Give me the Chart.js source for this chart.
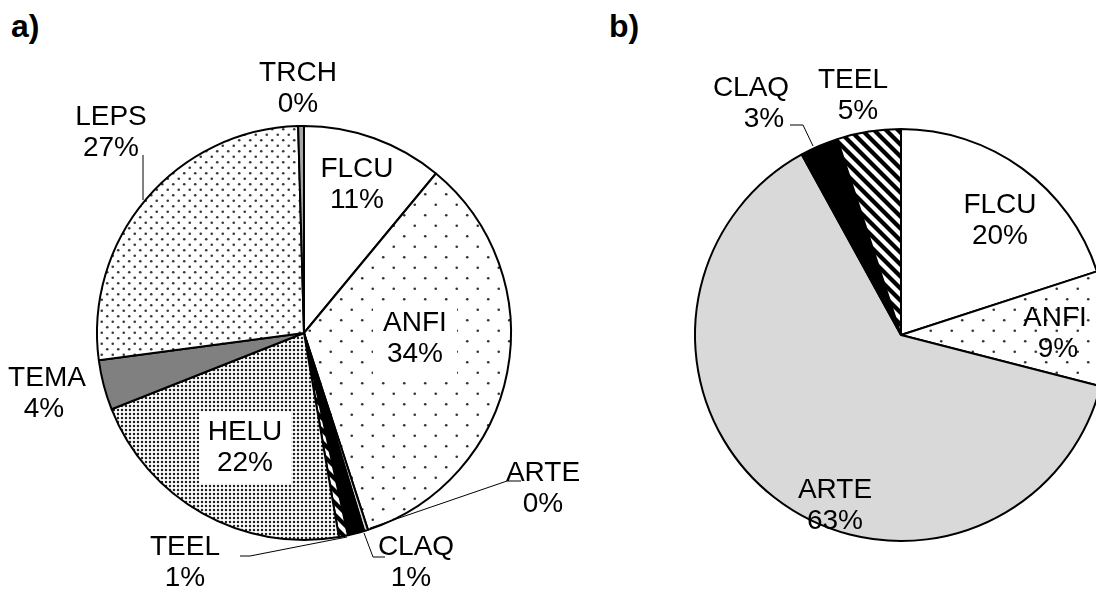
<!DOCTYPE html>
<html>
<head>
<meta charset="utf-8">
<script src="https://cdn.jsdelivr.net/npm/chart.js@4.4.0/dist/chart.umd.min.js"></script>
<style>
html, body { margin: 0; padding: 0; background: #fff; overflow: hidden; width: 1096px; height: 591px; }
canvas { position: absolute; top: 0; }
#pieA { left: 0; }
#pieB { left: 600px; }
.tag { position: absolute; font: bold 32px "Liberation Sans", Arial, sans-serif; line-height: 1; }
</style>
</head>
<body>
<div class="tag" style="left:11px;top:10px">a)</div>
<div class="tag" style="left:609px;top:10px">b)</div>
<canvas id="pieA" width="600" height="591"></canvas>
<canvas id="pieB" width="600" height="591"></canvas>
<script>
// a) composition
const labelsA = ['FLCU', 'ANFI', 'ARTE', 'CLAQ', 'TEEL', 'HELU', 'TEMA', 'LEPS', 'TRCH'];
const valuesA = [11.0, 34.0, 0.3, 1.3, 0.7, 21.7, 3.9, 26.65, 0.45];

// b) composition
const labelsB = ['FLCU', 'ANFI', 'ARTE', 'CLAQ', 'TEEL'];
const valuesB = [20, 9, 63, 3, 5];

const FONT = '28px "Liberation Sans", Arial, sans-serif';
const LINE = 31;

// fill patterns (excel-like)
function tile(ctx, size, draw) {
  const c = document.createElement('canvas');
  c.width = c.height = size;
  const g = c.getContext('2d');
  g.fillStyle = '#fff';
  g.fillRect(0, 0, size, size);
  draw(g, size);
  return ctx.createPattern(c, 'repeat');
}
const dot = (g, x, y, r, col) => { g.fillStyle = col; g.beginPath(); g.arc(x, y, r, 0, Math.PI * 2); g.fill(); };

function fills(ctx) {
  return {
    white: '#fff',
    sparse: tile(ctx, 21, (g, s) => { dot(g, s / 4, s / 4, 1.3, '#333'); dot(g, 3 * s / 4, 3 * s / 4, 1.3, '#333'); }),
    medium: tile(ctx, 11, (g, s) => { dot(g, s / 4, s / 4, 1.3, '#3a3a3a'); dot(g, 3 * s / 4, 3 * s / 4, 1.3, '#3a3a3a'); }),
    dense: tile(ctx, 4, (g, s) => { dot(g, 2, 2, 1.25, '#222'); }),
    stripes: tile(ctx, 12, (g, s) => {
      g.strokeStyle = '#000'; g.lineWidth = 4.2;
      for (let k = -1; k <= 1; k++) { g.beginPath(); g.moveTo(k * s - 2, -2); g.lineTo(k * s + s + 2, s + 2); g.stroke(); }
    }),
    black: '#000',
    grey: '#808080',
    lightGrey: '#a6a6a6',
    pale: '#d9d9d9'
  };
}

// draw labels, white boxes and leader lines
const pieLabels = {
  id: 'pieLabels',
  afterDatasetsDraw(chart, args, opts) {
    const { ctx } = chart;
    const arc = chart.getDatasetMeta(0).data[0];
    const cx = arc.x, cy = arc.y;
    const vals = chart.data.datasets[0].data;
    const total = vals.reduce((a, b) => a + b, 0);
    ctx.save();
    ctx.font = FONT;
    ctx.textAlign = 'center';
    ctx.textBaseline = 'middle';
    chart.data.labels.forEach((name, i) => {
      const p = opts.spots[i];
      if (!p) return;
      if (p.box) {
        ctx.fillStyle = '#fff';
        ctx.fillRect(cx + p.x - p.box[0] / 2, cy + p.y + LINE / 2 - p.box[1] / 2, p.box[0], p.box[1]);
      }
      if (p.lead) {
        ctx.strokeStyle = '#000';
        ctx.lineWidth = 1;
        ctx.beginPath();
        p.lead.forEach(([x, y], k) => k ? ctx.lineTo(cx + x, cy + y) : ctx.moveTo(cx + x, cy + y));
        ctx.stroke();
      }
      ctx.fillStyle = '#000';
      ctx.fillText(name, cx + p.x, cy + p.y);
      ctx.fillText(Math.round(vals[i] / total * 100) + '%', cx + p.x + (p.px || 0), cy + p.y + LINE);
    });
    ctx.restore();
  }
};

function pie(id, labels, values, fillKeys, pad, spots) {
  const el = document.getElementById(id);
  const f = fills(el.getContext('2d'));
  return new Chart(el, {
    type: 'pie',
    data: {
      labels,
      datasets: [{
        data: values,
        backgroundColor: fillKeys.map(k => f[k]),
        borderColor: '#000',
        borderWidth: 2
      }]
    },
    options: {
      responsive: false,
      animation: false,
      events: [],
      layout: { padding: pad },
      plugins: {
        legend: { display: false },
        tooltip: { enabled: false },
        pieLabels: { spots }
      }
    },
    plugins: [pieLabels]
  });
}

pie('pieA', labelsA, valuesA,
  ['white', 'sparse', 'pale', 'black', 'stripes', 'dense', 'grey', 'medium', 'lightGrey'],
  { left: 96, right: 88, top: 125, bottom: 50 },
  [
    { x: 53, y: -164 },
    { x: 111, y: -10, box: [84, 72] },
    { x: 239, y: 140, lead: [[66, 195], [203, 148], [217, 148]] },
    { x: 112, y: 214, px: -5, lead: [[60, 200], [69, 224], [81, 224]] },
    { x: -119, y: 214, lead: [[-64, 223], [-54, 223], [43, 204]] },
    { x: -59, y: 99, box: [92, 72] },
    { x: -257, y: 45, px: -3 },
    { x: -193, y: -216, lead: [[-161, -178], [-161, -133]] },
    { x: -6, y: -260 }
  ]);

pie('pieB', labelsB, valuesB,
  ['white', 'sparse', 'pale', 'black', 'stripes'],
  { left: 94, right: 92, top: 128, bottom: 49 },
  [
    { x: 99, y: -130 },
    { x: 154, y: -17, px: 3 },
    { x: -66, y: 155 },
    { x: -150, y: -247, px: 13, lead: [[-111, -210], [-98, -210], [-88, -189]] },
    { x: -48, y: -255, px: 5 }
  ]);
</script>
</body>
</html>
